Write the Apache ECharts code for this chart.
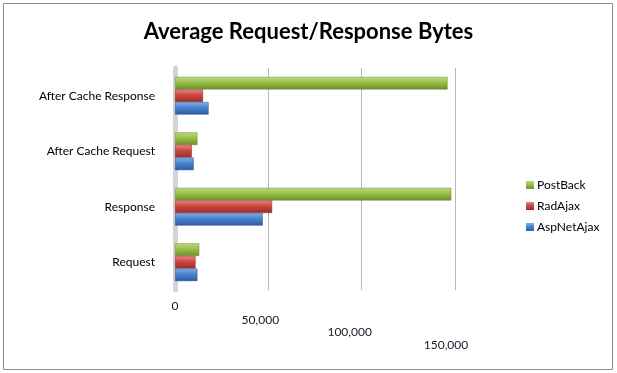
<!DOCTYPE html>
<html>
<head>
<meta charset="utf-8">
<script src="https://cdn.jsdelivr.net/npm/echarts@6/dist/echarts.min.js"></script>
<style>html,body{margin:0;padding:0;background:#fff}#c{width:617px;height:373px}</style>
</head>
<body>
<div id="c"></div>
<script>
var categories = ['Request', 'Response', 'After Cache Request', 'After Cache Response'];
var postBack = [13000, 148000, 12000, 146000];
var radAjax = [11000, 52000, 9000, 15000];
var aspNetAjax = [12000, 47000, 10000, 18000];
var xTicks = [0, 50000, 100000, 150000];

function grad(c1, c2, c3) {
  return new echarts.graphic.LinearGradient(0, 0, 0, 1, [
    {offset: 0, color: c1}, {offset: 0.45, color: c2}, {offset: 1, color: c3}
  ]);
}
var font = 'Lato, "Open Sans", sans-serif';
var chart = echarts.init(document.getElementById('c'));
chart.setOption({
  animation: false,
  backgroundColor: '#fff',
  title: {
    text: 'Average Request/Response Bytes',
    left: 'center', top: 16,
    textStyle: {fontFamily: font, fontWeight: 'bold', fontSize: 22, color: '#000'}
  },
  graphic: [{
    type: 'rect', shape: {x: 3.5, y: 3.5, width: 609, height: 366},
    style: {fill: 'none', stroke: '#8c8c8c', lineWidth: 1}, silent: true
  }],
  legend: {
    orient: 'vertical', left: 521, top: 174,
    itemWidth: 8, itemHeight: 8, itemGap: 9, icon: 'rect',
    itemStyle: {borderWidth: 0},
    data: ['PostBack', 'RadAjax', 'AspNetAjax'],
    textStyle: {fontFamily: font, fontSize: 12, color: '#000', padding: [0, 0, 0, -2]}
  },
  grid: {left: 175, right: 162, top: 68, bottom: 83},
  xAxis: {
    type: 'value', min: 0, max: 150000, interval: 50000,
    axisLine: {show: false}, axisTick: {show: false},
    splitLine: {lineStyle: {color: '#b8b8b8', width: 1}},
    axisLabel: {
      margin: 10,
      formatter: function (v) {
        var i = xTicks.indexOf(v);
        var s = v.toLocaleString('en-US');
        return '{t' + i + '|' + s + '}';
      },
      rich: {
        t0: {fontFamily: font, fontSize: 12, color: '#1a1a2a', padding: [0, 0, 0, 0]},
        t1: {fontFamily: font, fontSize: 12, color: '#1a1a2a', padding: [14, 16, 0, 0]},
        t2: {fontFamily: font, fontSize: 12, color: '#1a1a2a', padding: [26, 24, 0, 0]},
        t3: {fontFamily: font, fontSize: 12, color: '#1a1a2a', padding: [39, 18, 0, 0]}
      }
    }
  },
  yAxis: {
    type: 'category', data: categories,
    axisTick: {show: false},
    axisLine: {show: true, lineStyle: {color: '#d4d4d4', width: 5}},
    axisLabel: {margin: 20, fontFamily: font, fontSize: 12, color: '#000'}
  },
  series: [
    {name: 'PostBack', type: 'bar', data: postBack, barGap: '0%', barCategoryGap: '32%',
     itemStyle: {color: grad('#bcd97a', '#98c048', '#6e8f2a'), borderColor: '#6a8a2a', borderWidth: 0.5}},
    {name: 'RadAjax', type: 'bar', data: radAjax, barGap: '0%', barCategoryGap: '32%',
     itemStyle: {color: grad('#e88a86', '#cc4540', '#97302c'), borderColor: '#8e2b28', borderWidth: 0.5}},
    {name: 'AspNetAjax', type: 'bar', data: aspNetAjax, barGap: '0%', barCategoryGap: '32%',
     itemStyle: {color: grad('#86aee6', '#4a82cf', '#2d5c9e'), borderColor: '#2b5590', borderWidth: 0.5}}
  ]
});
</script>
</body>
</html>
